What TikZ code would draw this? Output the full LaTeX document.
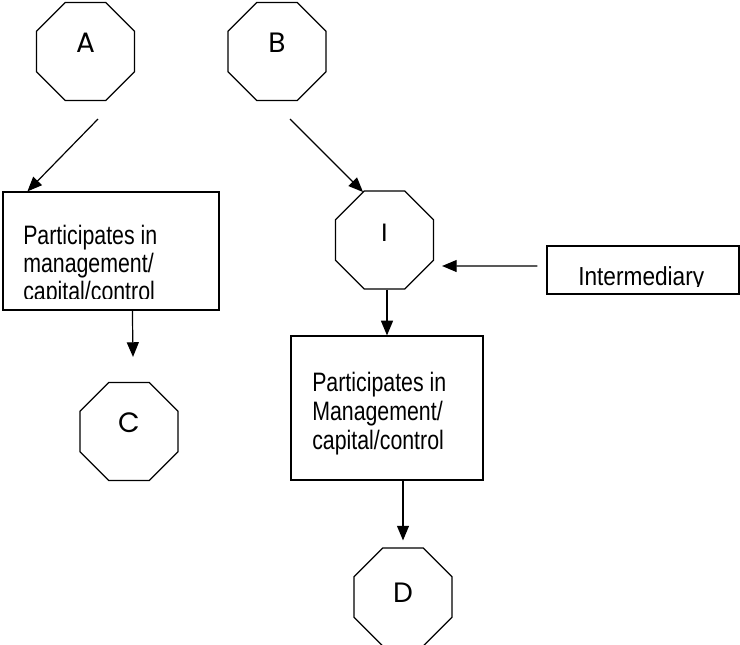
\documentclass[tikz,border=0pt]{standalone}
\usepackage{fontspec}
\usepackage{graphicx}
\setmainfont{Liberation Sans}
\newfontfamily\gothfont{Poppins}
\usetikzlibrary{shapes.geometric,arrows.meta,calc}

\newcommand{\tall}[1]{\scalebox{1}[1.25]{#1}}

\begin{document}
\begin{tikzpicture}[x=0.75pt,y=-0.75pt,
	octo/.style={draw,line width=0.9pt,regular polygon,regular polygon sides=8,minimum size=79.5pt,inner sep=0pt,text height=15pt,text depth=14pt,font=\gothfont\fontsize{21}{21}\selectfont},
	octi/.style={octo,text height=13.6pt,text depth=12pt,font=\fontsize{19}{19}\selectfont},
	box/.style={draw,line width=0.9pt,inner sep=0pt},
	boxtext/.style={anchor=base west,align=left,inner sep=0pt,font=\fontsize{16}{21}\selectfont},
	arr/.style={line width=0.9pt,-{Triangle[length=11pt,width=9pt]}}]
	\useasboundingbox (0,0) rectangle (740,644);
	% octagons
	\node[octo] (A) at (85.5,51.5) {A};
	\node[octo] (B) at (277,51.5) {B};
	\node[octi] (I) at (384.5,240) {I};
	\node[octo] (C) at (129,431.5) {C};
	\node[octo,text depth=7.5pt] (D) at (403,597) {D};
	% boxes
	\node[box,minimum width=162pt,minimum height=88.5pt] (box1) at (111,251) {};
	\node[box,minimum width=144pt,minimum height=108pt] (box2) at (387,408) {};
	\node[box,minimum width=144pt,minimum height=36pt] (inter) at (643,270) {};
	% texts, cut off at the box bottom
	\begin{scope}
		\clip (box1.north west) rectangle ($(box1.south east)+(0,-12)$);
		\node[boxtext] (t1) at (23,300) {\tall{Participates in}\\\tall{management/}\\\tall{capital/control}};
	\end{scope}
	\node[boxtext,font=\fontsize{16}{21.5}\selectfont] (t2) at (312,449) {\tall{Participates in}\\\tall{Management/}\\\tall{capital/control}};
	\begin{scope}
		\clip (inter.north west) rectangle ($(inter.south east)+(0,-8)$);
		\node[boxtext,font=\fontsize{17}{17}\selectfont] (t3) at (578,285.5) {\scalebox{1}[1.15]{Intermediary}};
	\end{scope}
	% arrows
	\coordinate (a1) at (98,119);
	\coordinate (b1) at (290,119);
	\draw[arr] (a1) -- ($(box1.north west)+(25,0)$);
	\draw[arr] (b1) -- ($(I.center)+(-21.5,-48)$);
	\draw[arr] ($(box1.south west)+(130,0)$) -- ($(C.north)+(4,-25)$);
	\draw[arr] (I.south -| box2.north) -- (box2.north);
	\draw[arr] ($(inter.west)+(-9,-4)$) -- ($(I.east)+(8,26)$);
	\draw[arr] (box2.south -| D.north) -- ($(D.north)+(0,-7)$);
\end{tikzpicture}
\end{document}
